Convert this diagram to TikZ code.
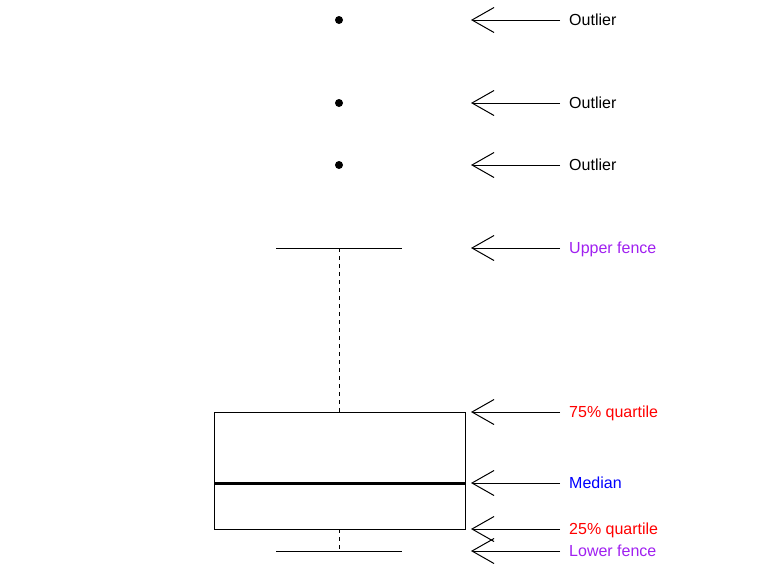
\documentclass[tikz,border=0pt]{standalone}
\usepackage{fontspec}
\setmainfont{Liberation Sans}
\usetikzlibrary{arrows.meta}
\definecolor{rpurple}{HTML}{A020F0}
\definecolor{rred}{HTML}{FF0000}
\definecolor{rblue}{HTML}{0000FF}
\begin{document}
\begin{tikzpicture}[x=1pt,y=-1pt,
  thin line/.style={line width=1pt},
  whisk/.style={line width=1pt, dash pattern=on 4pt off 4pt},
  lbl/.style={anchor=west, inner sep=0pt, text height=11.5pt, text depth=0pt, font=\fontsize{16pt}{18pt}\selectfont},
  pointer/.style={line width=1pt, -{Straight Barb[length=22pt,width=25pt,line width=1pt]}},
  outlier/.style={circle, fill=black, inner sep=0pt, minimum size=8pt}]
\useasboundingbox (0,0) rectangle (775,574);
% outliers
\node[outlier] (o1) at (339,20) {};
\node[outlier] (o2) at (339,103) {};
\node[outlier] (o3) at (339,165) {};
% fences
\coordinate (ufl) at (276,248); \coordinate (ufr) at (402,248); \coordinate (ufm) at (339,248);
\coordinate (lfl) at (276,551); \coordinate (lfr) at (402,551); \coordinate (lfm) at (339,551);
\draw[thin line] (ufl) -- (ufr);
\draw[thin line] (lfl) -- (lfr);
% box
\node[draw, thin line, minimum width=251pt, minimum height=117pt, inner sep=0pt, anchor=north west] (box) at (214,412) {};
\coordinate (bt) at (339,412); \coordinate (bb) at (339,529);
\draw[whisk] (ufm) -- (bt);
\draw[whisk] (bb) -- (lfm);
\coordinate (ml) at (214,483); \coordinate (mr) at (465,483);
\draw[line width=3pt] (ml) -- (mr);
% labels
\node[lbl] (t1) at (569,20) {Outlier};
\node[lbl] (t2) at (569,103) {Outlier};
\node[lbl] (t3) at (569,165) {Outlier};
\node[lbl, text=rpurple] (t4) at (569,248) {Upper fence};
\node[lbl, text=rred] (t5) at (569,412) {75\% quartile};
\node[lbl, text=rblue] (t6) at (569,483) {Median};
\node[lbl, text=rred] (t7) at (569,529) {25\% quartile};
\node[lbl, text=rpurple] (t8) at (569,551) {Lower fence};
% arrow tips
\foreach \i/\y in {1/20,2/103,3/165,4/248,5/412,6/483,7/529,8/551}{
  \coordinate (a\i) at (471,\y);
  \draw[pointer] ([xshift=-9pt]t\i.west) -- (a\i);
}
\end{tikzpicture}
\end{document}
